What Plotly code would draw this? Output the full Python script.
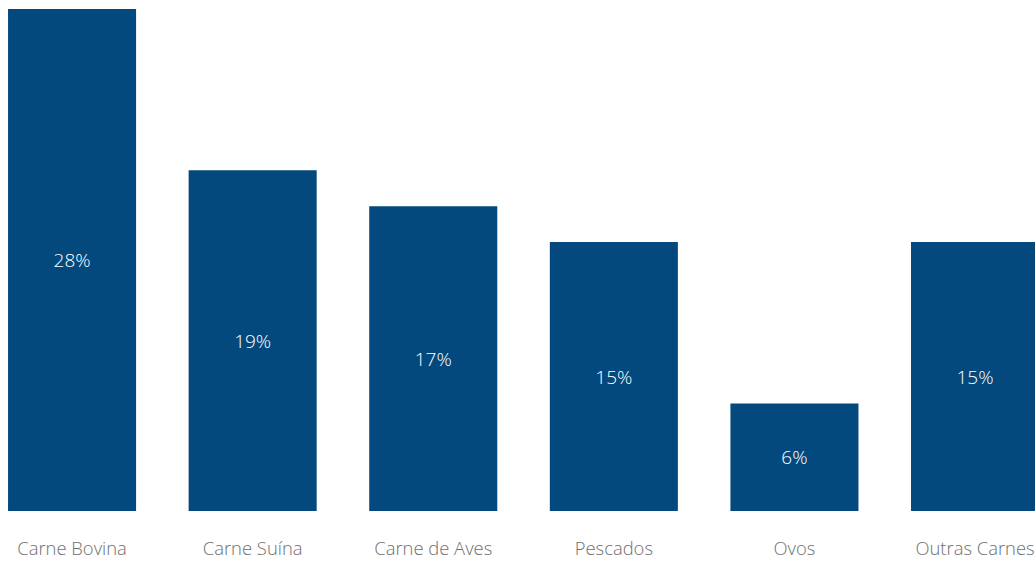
import plotly.graph_objects as go

categories = ["Carne Bovina", "Carne Suína", "Carne de Aves", "Pescados", "Ovos", "Outras Carnes"]
values = [28, 19, 17, 15, 6, 15]
labels = ["28%", "19%", "17%", "15%", "6%", "15%"]

fig = go.Figure(go.Bar(
    x=categories,
    y=values,
    text=labels,
    textposition="inside",
    insidetextanchor="middle",
    textangle=0,
    textfont=dict(color="#ffffff", size=19, family="Open Sans", weight=300),
    marker=dict(color="#03497D", line=dict(width=0)),
    width=0.709,
    hoverinfo="skip",
))

fig.update_layout(
    width=1035, height=563,
    margin=dict(l=0, r=0, t=0, b=52, autoexpand=False),
    paper_bgcolor="white", plot_bgcolor="white",
    showlegend=False,
    uniformtext=dict(mode=False),
    xaxis=dict(
        type="category",
        range=[-0.399, 5.332],
        automargin=False,
        showgrid=False, zeroline=False, showline=False,
        ticks="", ticklabelstandoff=25,
        tickfont=dict(color="#6f6f6f", size=18.4, family="Open Sans", weight=300),
    ),
    yaxis=dict(
        range=[0, 28.5],
        visible=False,
        showgrid=False, zeroline=False,
    ),
)

fig.write_html("out.html")
